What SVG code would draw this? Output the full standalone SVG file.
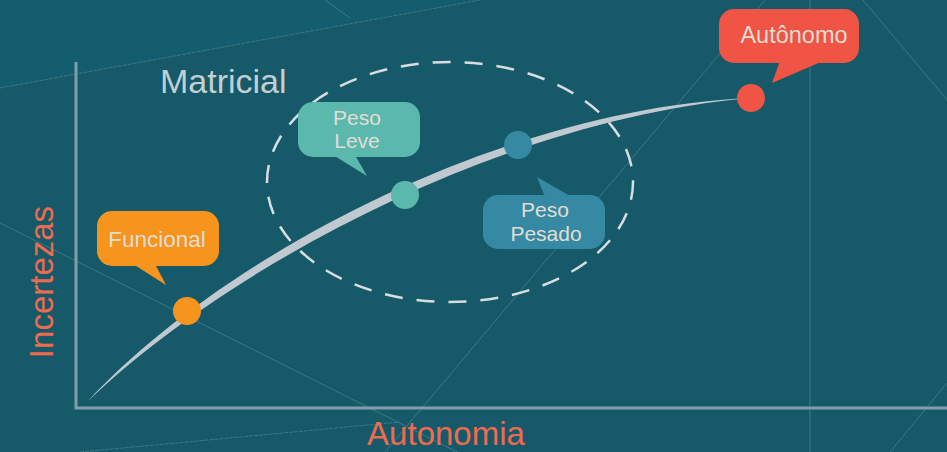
<svg xmlns="http://www.w3.org/2000/svg" width="947" height="452" viewBox="0 0 947 452">
<style>
.bg-line{stroke:#3d7886;stroke-width:1;fill:none}
.axis{stroke:#7f9ea7;stroke-width:3;fill:none}
.lbl{font-family:"Liberation Sans",Arial,sans-serif;fill:#e2ddd3;text-anchor:middle}
.axl{font-family:"Liberation Sans",Arial,sans-serif;fill:#f06a4e;text-anchor:middle}
</style>
<rect width="947" height="452" fill="#165a6a"/>
<polygon points="0,0 480,0 0,88" fill="#145d6f"/>
<g id="background-lines">
<line class="bg-line" x1="0" y1="88" x2="480" y2="0" stroke-dasharray="4 1"/>
<line class="bg-line" x1="325" y1="0" x2="350" y2="18"/>
<line class="bg-line" x1="810" y1="0" x2="810" y2="452"/>
<line class="bg-line" x1="863" y1="0" x2="947" y2="100"/>
<line class="bg-line" x1="765" y1="0" x2="385" y2="452"/>
<line class="bg-line" x1="0" y1="223" x2="947" y2="697"/>
<line class="bg-line" x1="80" y1="452" x2="400" y2="422" stroke-dasharray="4 1"/>
<line class="bg-line" x1="947" y1="383" x2="890" y2="452"/>
</g>
<g id="axes">
<polyline class="axis" points="76,62 76,408 947,408"/>
<text class="axl" font-size="33" transform="translate(53,282) rotate(-90)">Incertezas</text>
<text class="axl" font-size="33" x="446" y="445">Autonomia</text>
</g>
<g id="matricial">
<ellipse cx="450" cy="182" rx="183" ry="120" fill="none" stroke="#d8dde0" stroke-width="2.5" stroke-dasharray="18 14"/>
<text font-family="'Liberation Sans',Arial,sans-serif" font-size="34" fill="#c3cfd3" x="160" y="93">Matricial</text>
</g>
<g id="connectors">
<path d="M88,401 C220,258 500,109 750,98 C500,120 225,269 88,401 Z" fill="#c0c8d0"/>
</g>
<g id="funcional">
<rect x="97" y="211" width="122" height="55" rx="15" fill="#f7941d"/>
<polygon points="133,264 166,285 155,264" fill="#f7941d"/>
<circle cx="187" cy="311" r="14" fill="#f7941d"/>
<text class="lbl" font-size="22.5" x="157" y="247">Funcional</text>
</g>
<g id="peso-leve">
<rect x="298" y="102" width="122" height="55" rx="15" fill="#5bb8ad"/>
<polygon points="333,155 367,176 355,155" fill="#5bb8ad"/>
<circle cx="405" cy="195" r="14" fill="#5bb8ad"/>
<text class="lbl" font-size="21" x="357" y="125">Peso</text>
<text class="lbl" font-size="21" x="357" y="148">Leve</text>
</g>
<g id="peso-pesado">
<rect x="483" y="195" width="122" height="54" rx="15" fill="#3589a3"/>
<polygon points="537,177 572,197 545,197" fill="#3589a3"/>
<circle cx="518" cy="145" r="14" fill="#3589a3"/>
<text class="lbl" font-size="21" x="545" y="217">Peso</text>
<text class="lbl" font-size="21" x="546" y="241">Pesado</text>
</g>
<g id="autonomo">
<rect x="719" y="9" width="140" height="54" rx="15" fill="#f05444"/>
<polygon points="780,61 772,83 823,61" fill="#f05444"/>
<circle cx="751" cy="98" r="14" fill="#f05444"/>
<text class="lbl" font-size="23.5" x="794" y="43">Autônomo</text>
</g>
</svg>
